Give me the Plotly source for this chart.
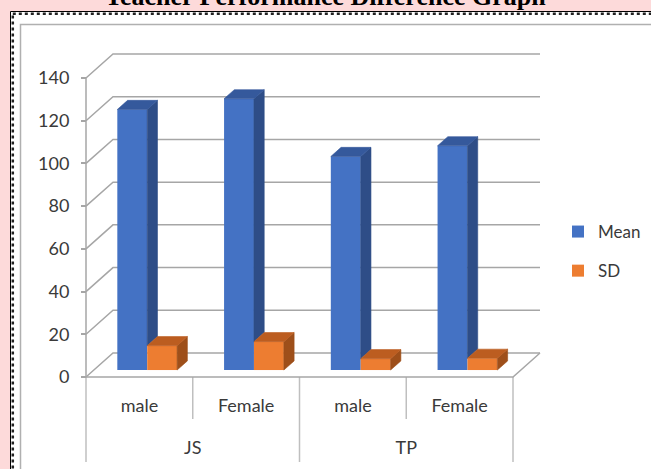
import plotly.graph_objects as go

# ---------------- data ----------------
groups = ["JS", "JS", "TP", "TP"]
genders = ["male", "Female", "male", "Female"]
mean_vals = [122, 127, 100, 105]
sd_vals = [11.4, 13.3, 5.3, 5.5]
y_ticks = [0, 20, 40, 60, 80, 100, 120, 140]
title_text = "Teacher Performance Difference Graph"

# ---------------- style / geometry ----------------
W, H = 651, 469
FONT = "Lato, Carlito, Calibri, sans-serif"
TEXT_COL = "#3A3A3A"
GRID_COL = "#A6A6A6"
DIV_COL = "#BFBFBF"
COLORS = {"Mean": ("#4472C4", "#2E4D87", "#35599C"),
          "SD": ("#ED7D31", "#9E4F1A", "#BC5D20")}

PX_L, PX_R, PY_T, PY_B = 78, 556, 44, 386      # plot box (px)
FX0, CAT_W = 86.0, 106.75                      # front plane: left edge, category width
FY0, PPU = 377.0, 299.0 / 140                  # front plane: zero line, px per unit
DEPTH_DX, DEPTH_DY = 27.0, 24.0                # oblique depth offset (px)
BAR_D0, BAR_DD, BAR_W = 0.29, 0.38, 0.28       # bar front depth, bar depth, bar width
ROW1_Y, ROW2_Y, DIV_END1, DIV_END2 = 377, 417, 419, 462


def px(x):
    return x / W


def py(y):
    return 1 - y / H


n = len(genders)
xpos = list(range(n))
c_lo = (PX_L - FX0) / CAT_W - 0.5
c_hi = (PX_R - FX0) / CAT_W - 0.5
v_lo = (FY0 - PY_B) / PPU
v_hi = (FY0 - PY_T) / PPU
DXc = DEPTH_DX / CAT_W
DV = DEPTH_DY / PPU
shift_v = BAR_D0 * DV
shift_c = BAR_D0 * DXc
ddx, ddv = BAR_DD * DXc, BAR_DD * DV

# group label positions (centre of each run of equal groups) and boundaries
group_names, group_centres, group_bounds = [], [], [-0.5]
start = 0
for i in range(1, n + 1):
    if i == n or groups[i] != groups[start]:
        group_names.append(groups[start])
        group_centres.append((start + i - 1) / 2)
        group_bounds.append(i - 0.5)
        start = i

fig = go.Figure()

series = [("Mean", mean_vals, -BAR_W + shift_c), ("SD", sd_vals, shift_c)]

# front faces: real bars
for name, vals, off in series:
    front = COLORS[name][0]
    fig.add_trace(go.Bar(
        x=xpos, y=vals, name=name, offset=off, width=BAR_W,
        customdata=[f"{g} {s}" for g, s in zip(groups, genders)],
        hovertemplate="%{customdata}<br>" + name + ": %{y}<extra></extra>",
        marker=dict(color=front, line=dict(width=0)), legendgroup=name))

# 3-D side and top faces computed from the values
for k, (name, vals, off) in enumerate(series):
    _, side, top = COLORS[name]
    nxt = series[k + 1][1] if k + 1 < len(series) else None
    for i, v in enumerate(vals):
        L = xpos[i] + off
        R = L + BAR_W
        base = nxt[i] if nxt is not None else 0
        fig.add_trace(go.Scatter(
            x=[R, R, R + ddx, R + ddx, R], y=[base, v, v + ddv, base + ddv, base],
            fill="toself", fillcolor=side, mode="lines", line=dict(width=0.6, color=side),
            showlegend=False, hoverinfo="skip"))
        fig.add_trace(go.Scatter(
            x=[L, R, R + ddx, L + ddx, L], y=[v, v, v + ddv, v + ddv, v],
            fill="toself", fillcolor=top, mode="lines", line=dict(width=0.6, color=top),
            showlegend=False, hoverinfo="skip"))

# dummies so the label axes exist
fig.add_trace(go.Scatter(x=[None], y=[None], xaxis="x", yaxis="y2",
                         showlegend=False, hoverinfo="skip"))
fig.add_trace(go.Scatter(x=[None], y=[None], xaxis="x3", yaxis="y",
                         showlegend=False, hoverinfo="skip"))

shapes = []
# page background: white sheet, hatched border, grey chart border
shapes.append(dict(type="rect", xref="paper", yref="paper", layer="below",
                   x0=px(10.5), x1=px(700), y0=py(11.5), y1=py(520),
                   fillcolor="white", line=dict(color="black", width=1)))
shapes.append(dict(type="rect", xref="paper", yref="paper", layer="below",
                   x0=px(12.8), x1=px(700), y0=py(13.8), y1=py(520),
                   line=dict(color="#222222", width=2.5, dash="dot")))
shapes.append(dict(type="rect", xref="paper", yref="paper", layer="below",
                   x0=px(20.5), x1=px(700), y0=py(24.5), y1=py(520),
                   line=dict(color="#B0B0B0", width=1.5)))


def wall_pt(c, v, d):
    return c + d * DXc, v + d * DV - shift_v


def path_of(pts):
    return "M" + " L".join(f"{a:.4f},{b:.4f}" for a, b in pts)


c_first, c_last = -0.5, n - 0.5
for v in y_ticks:
    pts = [wall_pt(c_first, v, 0), wall_pt(c_first, v, 1), wall_pt(c_last, v, 1)]
    shapes.append(dict(type="path", path=path_of(pts), xref="x", yref="y", layer="below",
                       line=dict(color=GRID_COL, width=1.5)))
shapes.append(dict(type="path", xref="x", yref="y", layer="below",
                   path=path_of([wall_pt(c_first, 0, 0), wall_pt(c_last, 0, 0), wall_pt(c_last, 0, 1)]),
                   line=dict(color=GRID_COL, width=1.5)))
shapes.append(dict(type="path", xref="x", yref="y", layer="below",
                   path=path_of([wall_pt(c_first, 0, 0), wall_pt(c_first, y_ticks[-1], 0)]),
                   line=dict(color=GRID_COL, width=1.5)))

# category dividers under the floor
for i in range(n + 1):
    b = i - 0.5
    full = b in group_bounds
    shapes.append(dict(type="line", xref="x", yref="paper", layer="below",
                       x0=b, x1=b, y0=py(FY0), y1=py(DIV_END2 if full else DIV_END1),
                       line=dict(color=DIV_COL, width=1.5)))

tickfont = dict(family=FONT, size=18, color=TEXT_COL)

fig.update_layout(
    width=W, height=H, margin=dict(l=0, r=0, t=0, b=0),
    paper_bgcolor="#FDDADA", plot_bgcolor="rgba(0,0,0,0)",
    barmode="overlay", shapes=shapes, hovermode="closest",
    xaxis=dict(domain=[px(PX_L), px(PX_R)], range=[c_lo, c_hi],
               anchor="free", position=py(ROW1_Y), showgrid=False, zeroline=False,
               showline=False, tickmode="array", tickvals=xpos, ticktext=genders,
               ticks="outside", ticklen=12, tickcolor="rgba(0,0,0,0)", tickfont=tickfont),
    xaxis3=dict(overlaying="x", range=[c_lo, c_hi], anchor="free", position=py(ROW2_Y),
                showgrid=False, zeroline=False, showline=False, tickmode="array",
                tickvals=group_centres, ticktext=group_names, ticks="outside", ticklen=14,
                tickcolor="rgba(0,0,0,0)", tickfont=tickfont),
    yaxis=dict(domain=[py(PY_B), py(PY_T)], range=[v_lo - shift_v, v_hi - shift_v],
               visible=False),
    yaxis2=dict(overlaying="y", anchor="free", position=px(FX0), range=[v_lo, v_hi],
                tickmode="array", tickvals=y_ticks, ticks="outside", ticklen=5,
                tickwidth=1.5, tickcolor=GRID_COL, showgrid=False, zeroline=False,
                showline=False, ticklabelstandoff=8, tickfont=tickfont),
    legend=dict(x=px(558), xanchor="left", y=py(214), yanchor="top",
                font=dict(family=FONT, size=17, color=TEXT_COL),
                bgcolor="rgba(0,0,0,0)", tracegroupgap=14, itemwidth=30),
    annotations=[dict(text="<b>" + title_text + "</b>", xref="paper", yref="paper",
                      x=0.5, y=py(13), xanchor="center", yanchor="bottom", showarrow=False,
                      font=dict(family="Liberation Serif, Times New Roman, serif",
                                size=26, color="black"))],
)

fig.write_html("out.html")
